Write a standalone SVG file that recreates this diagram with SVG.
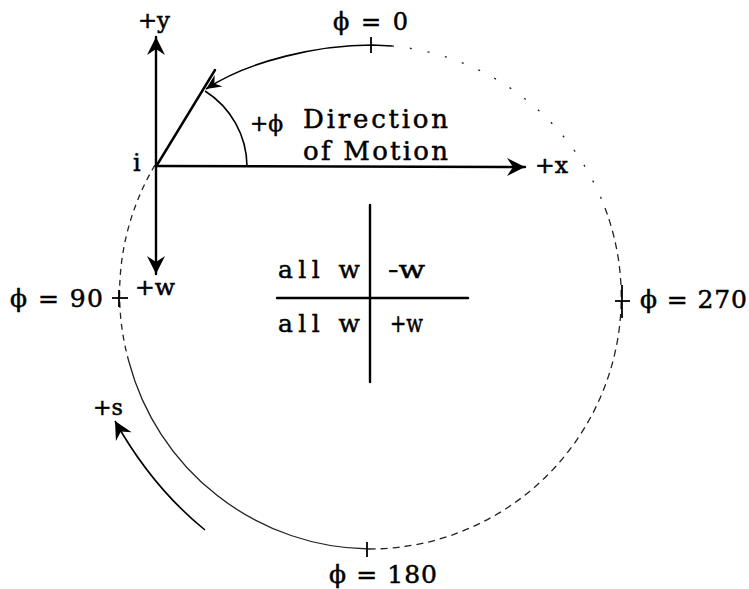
<svg xmlns="http://www.w3.org/2000/svg" width="749" height="589" viewBox="0 0 749 589">
<defs>
<style>
.ax{stroke:#000;stroke-width:2.4;fill:none;stroke-linecap:round}
.thin{stroke:#000;stroke-width:1.6;fill:none}
.circ{stroke:#222;stroke-width:1.3;fill:none}
.t{font-family:"DejaVu Serif","Liberation Serif",serif;fill:#000;stroke:#000;stroke-width:0.5}
</style>
<marker id="dart" markerUnits="userSpaceOnUse" markerWidth="24" markerHeight="24" viewBox="-20 -12 24 24" refX="0" refY="0" orient="auto">
<path d="M0,0 L-18,-9 L-12,0 L-18,9 Z" fill="#000"/>
</marker>
<marker id="dartS" markerUnits="userSpaceOnUse" markerWidth="20" markerHeight="20" viewBox="-18 -10 20 20" refX="0" refY="0" orient="auto">
<path d="M0,0 L-15,-7 L-10,0 L-15,7 Z" fill="#000"/>
</marker>
</defs>
<rect width="749" height="589" fill="#fff"/>

<g id="circle">
<path class="circ" d="M392,46 A252,252 0 0 1 605,208" stroke-dasharray="2 16" stroke="#555"/>
<path class="circ" d="M605,208 A252,252 0 0 1 369,549" stroke-dasharray="7 5"/>
<path class="circ" d="M369,549 A252,252 0 0 1 129,362" stroke-width="1.6"/>
<path class="circ" d="M129,362 A252,252 0 0 1 155,165" stroke-dasharray="6 5"/>
</g>

<g id="connectors">
<line class="ax" x1="156" y1="166" x2="156" y2="37" marker-end="url(#dart)"/>
<line class="ax" x1="156" y1="166" x2="156" y2="274" marker-end="url(#dart)"/>
<line class="ax" x1="156" y1="166" x2="525" y2="167" marker-end="url(#dart)"/>
<line class="ax" x1="157" y1="165" x2="215" y2="70"/>
<path class="thin" d="M247,166 A90,90 0 0 0 205,91"/>
<path class="thin" d="M392,46 L372,45 C320,45 250,60 206,89" marker-end="url(#dartS)"/>
<path class="thin" d="M205,530 Q152,487 115,421" stroke-width="2" marker-end="url(#dart)"/>
<line class="ax" x1="370" y1="205" x2="370" y2="382" stroke-width="2"/>
<line class="ax" x1="277" y1="298" x2="468" y2="298" stroke-width="2"/>
</g>

<g id="ticks" stroke="#000" stroke-width="1.8">
<line x1="371" y1="37" x2="371" y2="53"/>
<line x1="112" y1="298" x2="128" y2="298"/>
<line x1="119" y1="290" x2="119" y2="307"/>
<line x1="615" y1="301" x2="630" y2="301"/>
<line x1="622" y1="285" x2="622" y2="318"/>
<line x1="367" y1="542" x2="367" y2="557"/>
</g>

<g id="labels" class="t">
<text x="138" y="28" font-size="22" textLength="32" lengthAdjust="spacingAndGlyphs">+y</text>
<text x="333" y="30" font-size="24" textLength="75" lengthAdjust="spacing">ϕ = 0</text>
<text x="133" y="171" font-size="24">i</text>
<text x="250" y="131" font-size="22" textLength="33" lengthAdjust="spacingAndGlyphs">+ϕ</text>
<text x="303" y="128" font-size="26" textLength="145" lengthAdjust="spacing">Direction</text>
<text x="303" y="160" font-size="26" textLength="145" lengthAdjust="spacing">of Motion</text>
<text x="535" y="173" font-size="22" textLength="33" lengthAdjust="spacingAndGlyphs">+x</text>
<text x="10" y="307" font-size="25" textLength="93" lengthAdjust="spacing">ϕ = 90</text>
<text x="135" y="295" font-size="22" textLength="40" lengthAdjust="spacingAndGlyphs">+w</text>
<text x="640" y="308" font-size="25" textLength="107" lengthAdjust="spacing">ϕ = 270</text>
<text x="278" y="278" font-size="25" textLength="82" lengthAdjust="spacing">all w</text>
<text x="388" y="278" font-size="24" textLength="37" lengthAdjust="spacingAndGlyphs">-w</text>
<text x="278" y="332" font-size="25" textLength="82" lengthAdjust="spacing">all w</text>
<text x="390" y="332" font-size="24" textLength="33" lengthAdjust="spacingAndGlyphs">+w</text>
<text x="93" y="415" font-size="22" textLength="30" lengthAdjust="spacingAndGlyphs">+s</text>
<text x="329" y="583" font-size="25" textLength="108" lengthAdjust="spacing">ϕ = 180</text>
</g>
</svg>
